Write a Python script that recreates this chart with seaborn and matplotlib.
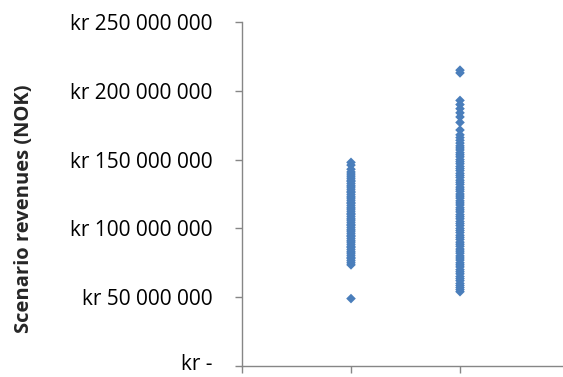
import matplotlib
matplotlib.use("Agg")
import matplotlib.pyplot as plt
import matplotlib.transforms as mtransforms
import seaborn as sns
import pandas as pd
from matplotlib.ticker import FuncFormatter

# Scenario revenues in million NOK, two scenario groups
scenario_a = [49, 73.5, 75, 76.5, 78, 79, 80.5, 82, 83, 84.5, 86, 87, 88.5, 90, 91,
              92.5, 94, 95, 96.5, 98, 99, 100.5, 102, 103, 104.5, 106, 107, 108.5,
              110, 111, 112.5, 114, 115, 116.5, 118, 119, 120.5, 122, 123, 124.5,
              126, 127, 128.5, 130, 131, 132.5, 134, 135, 136.5, 138, 139.5, 141,
              143, 146, 148]
scenario_b = [54, 55.5, 57, 58.5, 60, 62, 63.5, 65, 67, 68.5, 70, 72, 73.5, 75, 77,
              78.5, 80, 82, 83.5, 85, 87, 88.5, 90, 92, 93.5, 95, 97, 98.5, 100, 102,
              103.5, 105, 107, 108.5, 110, 112, 113.5, 115, 117, 118.5, 120, 122,
              123.5, 125, 127, 128.5, 130, 132, 133.5, 135, 137, 138.5, 140, 142,
              143.5, 145, 147, 148.5, 150, 152, 153.5, 155, 157, 158.5, 160, 162,
              164, 166, 168, 171.5, 177, 181, 184, 187, 190, 193, 213, 215]
group_positions = [1, 2]
y_ticks = [0, 50e6, 100e6, 150e6, 200e6, 250e6]

df = pd.DataFrame({
    "group": [group_positions[0]] * len(scenario_a) + [group_positions[1]] * len(scenario_b),
    "revenue": [v * 1e6 for v in scenario_a + scenario_b],
})

sns.set_style("white")
plt.rcParams["font.family"] = ["Open Sans", "DejaVu Sans"]

fig = plt.figure(figsize=(5.63, 3.77), dpi=100)
ax = fig.add_axes([242 / 563, 1 - 366 / 377, 1 - 242 / 563, (366 - 22) / 377])

sns.scatterplot(data=df, x="group", y="revenue", marker="D", s=24,
                color="#4A7EBB", edgecolor="none", linewidth=0, ax=ax, legend=False)

ax.set_xlim(0, (563 - 242) / 109)
ax.set_ylim(0, 250e6)
ax.set_xticks([0, 1, 2])
ax.set_xticklabels([])
ax.set_yticks(y_ticks)


def kr_format(v, pos):
    if v == 0:
        return "kr -"
    return "kr " + f"{int(round(v)):,}".replace(",", " ")


ax.yaxis.set_major_formatter(FuncFormatter(kr_format))
ax.set_xlabel("")
ax.set_ylabel("")

for side in ["top", "right"]:
    ax.spines[side].set_visible(False)
for side in ["left", "bottom"]:
    ax.spines[side].set_color("#868686")
    ax.spines[side].set_linewidth(1.0)

ax.tick_params(axis="y", direction="out", length=5, width=1, color="#868686",
               labelsize=15, pad=16, left=True, labelcolor="black")
ax.tick_params(axis="x", direction="out", length=5, width=1, color="#868686",
               bottom=True)

# lift the zero label slightly so it stays inside the canvas
zero_label = ax.yaxis.get_major_ticks()[0].label1
zero_label.set_transform(zero_label.get_transform()
                         + mtransforms.ScaledTranslation(0, 3 / 72, fig.dpi_scale_trans))

fig.text(24 / 563, 1 - 209 / 377, "Scenario revenues (NOK)", rotation=90,
         ha="center", va="center", fontsize=14.5, fontweight="bold")

fig.savefig("out.png", dpi=100)
